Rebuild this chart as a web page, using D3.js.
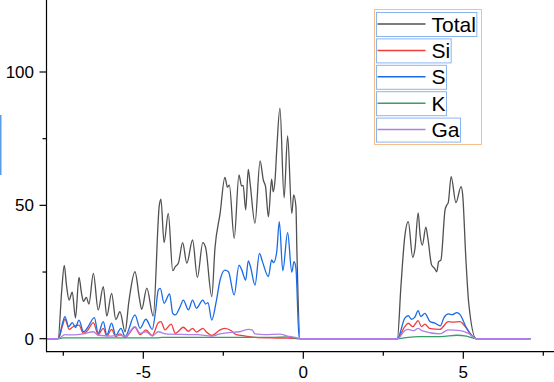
<!DOCTYPE html>
<html><head><meta charset="utf-8">
<script src="https://cdn.jsdelivr.net/npm/d3@7"></script>
<style>html,body{margin:0;padding:0;background:#fff;overflow:hidden}svg{display:block}text{font-family:"Liberation Sans",Arial,sans-serif}</style>
</head><body><svg id="c" width="554" height="382"></svg>
<script>
const seriesNames = ["Total", "Si", "S", "K", "Ga"];
const seriesColors = ["#505050", "#f23c3c", "#1a6be6", "#34a062", "#b07ee8"];
const xTicks = [-5, 0, 5];
const yTicks = [0, 50, 100];
const xMinorTicks = [-7.5, -2.5, 2.5, 7.5];
const yMinorTicks = [25, 75];

const totalData = [[-8,0],[-7.66,0],[-7.55,18],[-7.47,27.5],[-7.40,20],[-7.32,14.5],[-7.22,17.5],[-7.12,7.8],[-7.01,23],[-6.93,17],[-6.87,14],[-6.78,15.5],[-6.70,13],[-6.56,24.5],[-6.41,10.8],[-6.25,19.5],[-6.14,8.5],[-5.99,17],[-5.86,7.2],[-5.73,10.1],[-5.57,2.6],[-5.45,14],[-5.26,25.1],[-5.12,15],[-5.05,11],[-4.89,19],[-4.69,8.5],[-4.50,50],[-4.45,52.3],[-4.35,36],[-4.22,47],[-4.08,25.5],[-4.00,27],[-3.90,28.5],[-3.77,36],[-3.64,28.3],[-3.46,37],[-3.31,23],[-3.14,36],[-3.05,34],[-2.86,15.8],[-2.76,34],[-2.60,47],[-2.45,60.5],[-2.37,56.8],[-2.31,57.6],[-2.16,37.6],[-2.01,61.4],[-1.93,57.3],[-1.88,57.5],[-1.80,48.3],[-1.72,63.5],[-1.66,58],[-1.51,43.3],[-1.35,66.7],[-1.25,59.5],[-1.18,57],[-1.09,45.7],[-0.99,59.8],[-0.94,55.1],[-0.88,60],[-0.83,70.8],[-0.73,86.4],[-0.60,52.8],[-0.49,76],[-0.36,47],[-0.30,53.9],[-0.23,49.5],[-0.20,33],[-0.10,0],[2.94,0],[3.05,19.5],[3.17,38.2],[3.28,43.9],[3.42,30.5],[3.49,33.9],[3.59,47.2],[3.65,38.9],[3.72,35.1],[3.83,41.8],[3.90,37],[4.01,27.6],[4.10,26.4],[4.17,25.1],[4.23,28.9],[4.30,29.5],[4.43,48.3],[4.48,50],[4.53,51],[4.62,60.8],[4.77,51],[4.93,57],[4.98,54],[5.08,30],[5.17,13.3],[5.40,0],[7.1,0]];

const siData = [[-8,0],[-7.66,0],[-7.52,5],[-7.45,7.3],[-7.31,3.5],[-7.22,4.3],[-7.01,5.1],[-6.87,2],[-6.75,3],[-6.56,6],[-6.41,1.5],[-6.25,3.9],[-6.14,1],[-5.99,3.5],[-5.86,0.8],[-5.73,1.8],[-5.57,0.5],[-5.26,4.3],[-5.10,1.5],[-4.92,3.3],[-4.72,1.2],[-4.53,6],[-4.45,6.4],[-4.32,3.3],[-4.13,5.5],[-4.00,2],[-3.90,2.8],[-3.75,4.3],[-3.59,2.8],[-3.46,3.9],[-3.34,2.5],[-3.14,3.9],[-3.05,2.8],[-2.86,1.2],[-2.60,3.3],[-2.45,3.9],[-2.25,3],[-2.10,1.5],[-1.80,1],[-1.50,0.5],[-1.0,0.3],[-0.5,0.2],[-0.1,0],[2.94,0],[3.17,4.5],[3.28,5.8],[3.42,4.5],[3.59,6.8],[3.69,4.5],[3.80,5.5],[3.94,3.9],[4.27,3.5],[4.53,6.4],[4.65,6.2],[4.90,6.4],[5.03,5],[5.21,2],[5.40,0],[7.1,0]];

const sData = [[-8,0],[-7.66,0],[-7.52,6],[-7.45,8.3],[-7.33,4.5],[-7.22,6],[-7.12,4.2],[-7.01,7],[-6.87,2.6],[-6.75,4],[-6.53,7.9],[-6.41,2],[-6.25,6.4],[-6.14,1.4],[-5.99,5.8],[-5.86,1.2],[-5.70,3.9],[-5.57,0.8],[-5.26,8.9],[-5.10,3.9],[-4.92,7.3],[-4.72,3.5],[-4.62,10],[-4.53,18.3],[-4.47,18.9],[-4.35,13.3],[-4.18,16.8],[-4.08,9.5],[-4.00,8.9],[-3.85,12],[-3.75,14.5],[-3.59,10.8],[-3.46,14.5],[-3.34,11.4],[-3.14,14.5],[-3.05,13],[-2.98,13.5],[-2.86,7],[-2.72,14],[-2.60,22],[-2.45,25.7],[-2.34,25.1],[-2.16,16.4],[-2.01,27.6],[-1.93,26],[-1.80,22],[-1.72,29.2],[-1.65,27],[-1.51,20.1],[-1.37,32],[-1.28,29],[-1.09,23.3],[-0.99,29.5],[-0.93,28.5],[-0.83,32.6],[-0.75,43.9],[-0.64,25.5],[-0.49,39.8],[-0.36,25],[-0.29,28.9],[-0.23,26.4],[-0.13,0],[2.94,0],[3.17,7.6],[3.28,8.6],[3.38,7.3],[3.48,8],[3.59,10.5],[3.67,8.3],[3.80,9.5],[3.96,6.4],[4.10,5.9],[4.28,4.8],[4.40,8],[4.54,9.3],[4.65,9],[4.80,9.8],[4.90,9],[5.08,4.5],[5.40,0],[7.1,0]];

const kData = [[-8,0],[-7.66,0],[-7.5,0.3],[-4.6,0.3],[-4.4,0.5],[-1.0,0.5],[-0.5,0.7],[-0.1,0],[2.94,0],[3.2,0.4],[3.6,0.8],[4.3,0.8],[4.8,1.3],[5.1,1],[5.40,0],[7.1,0]];

const gaData = [[-8,0],[-7.66,0],[-7.45,1.5],[-7.2,1.4],[-6.87,1.8],[-6.56,2.6],[-6.41,1.3],[-6.0,1],[-5.7,1.3],[-5.57,0.8],[-5.26,4.5],[-5.10,2],[-4.92,2.6],[-4.72,1],[-4.53,2.6],[-4.3,1.8],[-3.8,1.6],[-3.3,1.5],[-2.86,1],[-2.6,1.8],[-2.4,2.2],[-2.0,2.6],[-1.70,3.5],[-1.60,3.3],[-1.51,1.8],[-1.2,1.5],[-0.73,1.7],[-0.5,1],[-0.25,0.5],[-0.1,0],[2.94,0],[3.17,3],[3.28,3.5],[3.45,3],[3.59,3.9],[3.70,3],[4.27,1.8],[4.53,3.3],[4.90,3],[5.16,2],[5.40,0],[7.1,0]];

const allData = [totalData, siData, sData, kData, gaData];

const svg = d3.select("#c");
const x = d3.scaleLinear().domain([0, 5]).range([303.3, 463.3]);
const y = d3.scaleLinear().domain([0, 100]).range([338.7, 72]);
const axX = 46.5, axY = 351.7;

// artifact blue bar at left
svg.append("rect").attr("x", 0).attr("y", 115).attr("width", 1.5).attr("height", 60).attr("fill", "#5b9bea");

const line = d3.line().x(d => x(d[0])).y(d => y(d[1])).curve(d3.curveMonotoneX);
const g = svg.append("g");
allData.forEach((data, i) => {
  g.append("path").attr("d", line(data)).attr("fill", "none")
    .attr("stroke", seriesColors[i]).attr("stroke-width", 1.3).attr("stroke-linejoin", "round");
});

// axes
svg.append("line").attr("x1", axX).attr("x2", axX).attr("y1", 0).attr("y2", axY + 0.5).attr("stroke", "#000").attr("stroke-width", 1.2);
svg.append("line").attr("x1", axX).attr("x2", 554).attr("y1", axY).attr("y2", axY).attr("stroke", "#000").attr("stroke-width", 1.2);
xTicks.forEach(t => {
  svg.append("line").attr("x1", x(t)).attr("x2", x(t)).attr("y1", axY).attr("y2", axY + 7).attr("stroke", "#000").attr("stroke-width", 1.2);
  svg.append("text").attr("x", x(t)).attr("y", 378).attr("text-anchor", "middle").attr("font-size", 17).attr("fill", "#000").text(t);
});
xMinorTicks.forEach(t => {
  svg.append("line").attr("x1", x(t)).attr("x2", x(t)).attr("y1", axY).attr("y2", axY + 4).attr("stroke", "#000").attr("stroke-width", 1.2);
});
yTicks.forEach(t => {
  svg.append("line").attr("x1", axX - 7).attr("x2", axX).attr("y1", y(t)).attr("y2", y(t)).attr("stroke", "#000").attr("stroke-width", 1.2);
  svg.append("text").attr("x", 34).attr("y", y(t) + 6).attr("text-anchor", "end").attr("font-size", 17).attr("fill", "#000").text(t);
});
yMinorTicks.forEach(t => {
  svg.append("line").attr("x1", axX - 4).attr("x2", axX).attr("y1", y(t)).attr("y2", y(t)).attr("stroke", "#000").attr("stroke-width", 1.2);
});

// legend
const lg = svg.append("g");
lg.append("rect").attr("x", 374.5).attr("y", 9.5).attr("width", 107).attr("height", 135)
  .attr("fill", "#fff").attr("stroke", "#f7c08a").attr("stroke-width", 1);
seriesNames.forEach((name, i) => {
  const cy = 24 + i * 26.4;
  const t = lg.append("text").attr("x", 431.5).attr("y", cy + 7.5).attr("font-size", 21).attr("fill", "#000").text(name);
  const w = t.node().getComputedTextLength();
  lg.insert("rect", "text").attr("x", 376.5).attr("y", cy - 11.5).attr("width", 431.5 + w + 1 - 376.5).attr("height", 24)
    .attr("fill", "none").attr("stroke", "#8ab4f0").attr("stroke-width", 1);
  lg.append("line").attr("x1", 377.5).attr("x2", 425.5).attr("y1", cy).attr("y2", cy)
    .attr("stroke", seriesColors[i]).attr("stroke-width", 1.5);
});
</script></body></html>
